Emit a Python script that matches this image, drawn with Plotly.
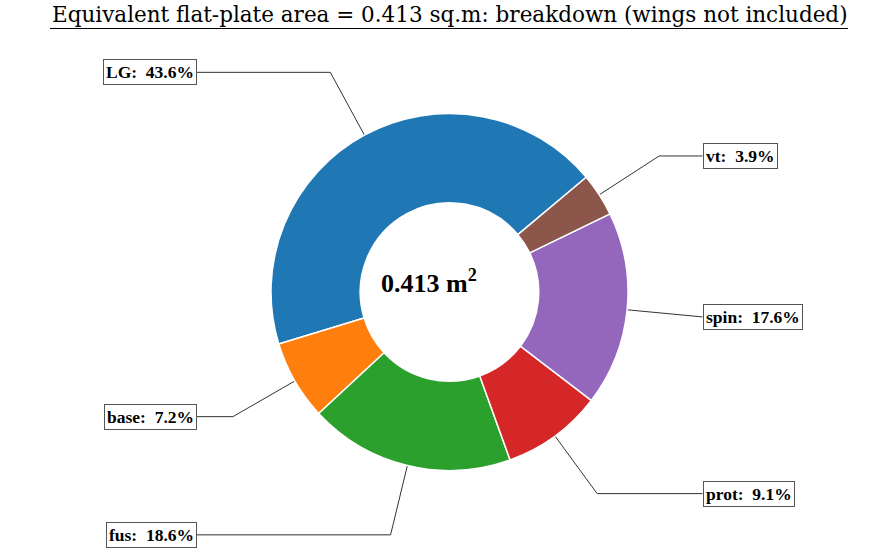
import numpy as np
import plotly.graph_objects as go

labels = ["LG", "base", "fus", "prot", "spin", "vt"]
percents = [43.6, 7.2, 18.6, 9.1, 17.6, 3.9]
colors = ["#1f77b4", "#ff7f0e", "#2ca02c", "#d62728", "#9467bd", "#8c564b"]
total_area = 0.413
title_text = "Equivalent flat-plate area = 0.413 sq.m: breakdown (wings not included)"

W, H = 884, 556
cx, cy, R = 449.5, 292.0, 178.5   # pie centre / radius in px
start_angle = 40.0                # degrees, counter-clockwise from 3 o'clock
SERIF = "Liberation Serif"

vals = np.array(percents)
frac = vals / vals.sum()
# plotly (counterclockwise): first slice occupies clockwise angles [rotation, rotation + span]
rotation = (90 - start_angle) - frac[0] * 360

fig = go.Figure()

fig.add_trace(go.Pie(
    labels=labels, values=percents, sort=False, direction="counterclockwise",
    rotation=rotation, hole=0.5, textinfo="none", hoverinfo="label+percent",
    marker=dict(colors=colors, line=dict(color="white", width=1.5)),
    domain=dict(x=[(cx - R) / W, (cx + R) / W], y=[(H - cy - R) / H, (H - cy + R) / H]),
    showlegend=False,
))

# leader lines + label boxes (unit = pie radius)
ends = start_angle + np.cumsum(frac) * 360
starts = ends - frac * 360
mids = np.deg2rad((starts + ends) / 2)
box_x = 253.0 / R
for lab, p, a in zip(labels, percents, mids):
    x, y = np.cos(a), np.sin(a)
    s = 1 if x >= 0 else -1
    fig.add_trace(go.Scatter(
        x=[x, 1.4 * x, s * box_x], y=[y, 1.4 * y, 1.4 * y], mode="lines",
        line=dict(color="#333333", width=1), hoverinfo="skip", showlegend=False,
    ))
    fig.add_annotation(
        x=s * box_x, y=1.4 * y, xref="x", yref="y", showarrow=False,
        text=f"<b>{lab}:\u00a0 {p:.1f}%</b>", xanchor="left" if s > 0 else "right",
        yanchor="middle", bgcolor="white", bordercolor="#555555", borderwidth=1,
        borderpad=2, font=dict(family=SERIF, size=17.5, color="black"),
    )

fig.add_annotation(
    x=-21 / R, y=11 / R, xref="x", yref="y", showarrow=False,
    text=f"<b>{total_area}\u00a0m<sup>2</sup></b>",
    font=dict(family=SERIF, size=26, color="black"),
)

fig.add_annotation(
    x=450 / W, y=1.0, xref="paper", yref="paper", showarrow=False,
    xanchor="center", yanchor="top", text=title_text,
    font=dict(family="DejaVu Serif", size=21.5, color="black"),
)
fig.add_shape(type="line", xref="paper", yref="paper",
              x0=50 / W, x1=848 / W, y0=1 - 28.5 / H, y1=1 - 28.5 / H,
              line=dict(color="black", width=1.2))

fig.update_layout(
    width=W, height=H, margin=dict(l=0, r=0, t=0, b=0),
    paper_bgcolor="white", plot_bgcolor="rgba(0,0,0,0)",
    xaxis=dict(range=[-cx / R, (W - cx) / R], visible=False, domain=[0, 1], fixedrange=True),
    yaxis=dict(range=[-(H - cy) / R, cy / R], visible=False, domain=[0, 1], fixedrange=True),
)

fig.write_html("out.html", config={"displayModeBar": False},
               post_script="document.body.style.margin='0';")
